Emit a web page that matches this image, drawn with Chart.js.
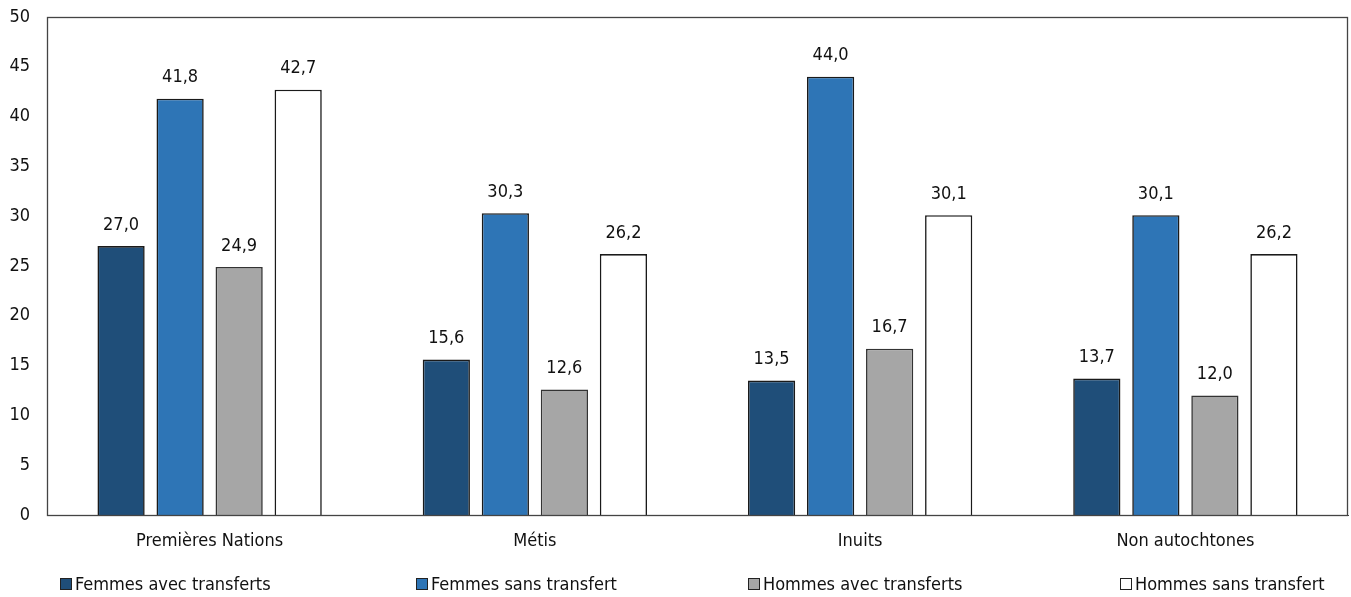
<!DOCTYPE html>
<html>
<head>
<meta charset="utf-8">
<script src="https://cdn.jsdelivr.net/npm/chart.js@4"></script>
<style>
  html, body { margin: 0; padding: 0; background: #fff; }
  #wrap { position: relative; width: 1351px; height: 597px; }
  #legend { position: absolute; left: 0; top: 573px; width: 1351px; height: 22px;
            font-family: "Liberation Sans Narrow", "Arial Narrow", "DejaVu Sans Condensed", sans-serif;
            font-size: 18px; color: #111; }
  .item { position: absolute; top: 0; display: flex; align-items: center; white-space: nowrap; }
  .box { width: 10px; height: 10px; border: 1.5px solid #222; margin-right: 3px; }
</style>
</head>
<body>
<div id="wrap">
  <canvas id="c" width="1351" height="597"></canvas>
  <div id="legend"></div>
</div>
<script>
const categories = ["Premières Nations", "Métis", "Inuits", "Non autochtones"];
const femmesAvecTransferts = [27.0, 15.6, 13.5, 13.7];
const femmesSansTransfert = [41.8, 30.3, 44.0, 30.1];
const hommesAvecTransferts = [24.9, 12.6, 16.7, 12.0];
const hommesSansTransfert = [42.7, 26.2, 30.1, 26.2];
const seriesLabels = ["Femmes avec transferts", "Femmes sans transfert", "Hommes avec transferts", "Hommes sans transfert"];
const yTicks = [0, 5, 10, 15, 20, 25, 30, 35, 40, 45, 50];

const FONT = '"Liberation Sans Narrow", "Arial Narrow", "DejaVu Sans Condensed", sans-serif';
const fills = ["#1f4e79", "#2e75b6", "#a6a6a6", "#ffffff"];
const borders = ["#1a1a1a", "#1a1a1a", "#333333", "#1a1a1a"];
const legendX = [60, 416, 748, 1120];

const values = [femmesAvecTransferts, femmesSansTransfert, hommesAvecTransferts, hommesSansTransfert];

const fmt = v => v.toFixed(1).replace('.', ',');

// value labels above each bar
const valueLabels = {
  id: 'valueLabels',
  afterDatasetsDraw(chart) {
    const ctx = chart.ctx;
    ctx.save();
    ctx.font = '18px ' + FONT;
    ctx.fillStyle = '#111';
    ctx.textAlign = 'center';
    ctx.textBaseline = 'bottom';
    chart.data.datasets.forEach((ds, i) => {
      chart.getDatasetMeta(i).data.forEach((bar, j) => {
        ctx.fillText(fmt(ds.data[j]), bar.x, bar.y - 12);
      });
    });
    ctx.restore();
  }
};

// frame around the plot area
const frame = {
  id: 'frame',
  afterDraw(chart) {
    const a = chart.chartArea, ctx = chart.ctx;
    ctx.save();
    ctx.strokeStyle = '#444';
    ctx.lineWidth = 1.3;
    ctx.strokeRect(Math.round(a.left) + 0.5, Math.round(a.top) + 0.5,
                   Math.round(a.right - a.left) - 1, Math.round(a.bottom - a.top));
    ctx.restore();
  }
};

new Chart(document.getElementById('c'), {
  type: 'bar',
  data: {
    labels: categories,
    datasets: values.map((d, i) => ({
      label: seriesLabels[i],
      data: d,
      backgroundColor: fills[i],
      borderColor: borders[i],
      borderWidth: 1.6,
      categoryPercentage: 0.726,
      barPercentage: 0.8
    }))
  },
  options: {
    responsive: false,
    animation: false,
    layout: { padding: { top: 17, right: 3, bottom: 32, left: 0 } },
    plugins: { legend: { display: false }, tooltip: { enabled: false } },
    scales: {
      x: {
        grid: { display: false, drawTicks: false },
        border: { display: true, color: '#444' },
        ticks: { color: '#111', font: { family: FONT, size: 18 }, padding: 16 },
        afterFit(s) { s.height = 50; s.paddingLeft = 0; s.paddingRight = 0; }
      },
      y: {
        min: 0, max: 50,
        afterBuildTicks(s) { s.ticks = yTicks.map(v => ({ value: v })); },
        grid: { display: false, drawTicks: false },
        border: { display: true, color: '#444' },
        ticks: { color: '#111', font: { family: FONT, size: 18 }, padding: 17 },
        afterFit(s) { s.width = 47; s.paddingTop = 0; s.paddingBottom = 0; }
      }
    }
  },
  plugins: [valueLabels, frame]
});

// legend below the chart
const leg = document.getElementById('legend');
seriesLabels.forEach((t, i) => {
  const it = document.createElement('div');
  it.className = 'item';
  it.style.left = legendX[i] + 'px';
  const b = document.createElement('span');
  b.className = 'box';
  b.style.background = fills[i];
  const s = document.createElement('span');
  s.textContent = t;
  it.appendChild(b); it.appendChild(s);
  leg.appendChild(it);
});
</script>
</body>
</html>
